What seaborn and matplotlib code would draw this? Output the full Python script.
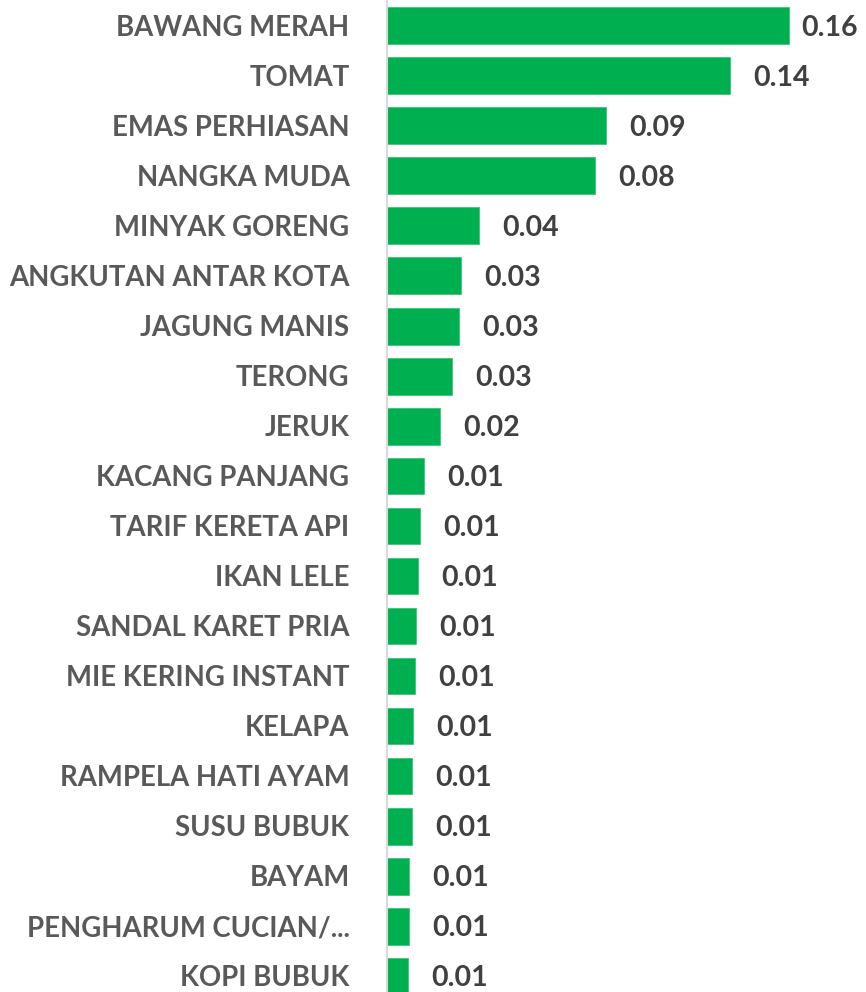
import matplotlib
matplotlib.use("Agg")
import matplotlib.pyplot as plt
import seaborn as sns
import pandas as pd

# Data
items = ["BAWANG MERAH", "TOMAT", "EMAS PERHIASAN", "NANGKA MUDA", "MINYAK GORENG",
         "ANGKUTAN ANTAR KOTA", "JAGUNG MANIS", "TERONG", "JERUK", "KACANG PANJANG",
         "TARIF KERETA API", "IKAN LELE", "SANDAL KARET PRIA", "MIE KERING INSTANT",
         "KELAPA", "RAMPELA HATI AYAM", "SUSU BUBUK", "BAYAM",
         "PENGHARUM CUCIAN/...", "KOPI BUBUK"]
values = [0.160, 0.1365, 0.0872, 0.0828, 0.0366,
          0.0295, 0.0287, 0.0259, 0.0211, 0.0147,
          0.0131, 0.0123, 0.0115, 0.0111,
          0.0104, 0.0099, 0.0099, 0.0088,
          0.0088, 0.0084]

df = pd.DataFrame({"item": items, "value": values})

sns.set_style("white")
plt.rcParams["font.family"] = ["Lato", "DejaVu Sans"]

fig = plt.figure(figsize=(8.66, 9.92), dpi=100)
ax = fig.add_axes([387 / 866, 0, 1 - 387 / 866, 1])

sns.barplot(data=df, x="value", y="item", color="#00B050", saturation=1,
            width=0.74, edgecolor="#3CC47A", linewidth=0.6, ax=ax)

ax.set_xlim(0, 0.1907)
ax.set_ylim(19.32, -0.52)

for s in ["top", "right", "bottom"]:
    ax.spines[s].set_visible(False)
ax.spines["left"].set_color("#D9D9D9")
ax.spines["left"].set_linewidth(1.5)

ax.set_xticks([])
ax.set_xlabel("")
ax.set_ylabel("")
ax.tick_params(axis="y", length=0, pad=27, labelsize=19.8, labelcolor="#595959")
for t in ax.get_yticklabels():
    t.set_fontweight("bold")

labels = ax.bar_label(ax.containers[0], fmt="%.2f", padding=16.5, fontsize=20.5,
                      fontweight="bold", color="#404040")
for t in labels:
    t.xyann = (16.5, -1.5)

# keep labels inside the figure like Excel does
fig.canvas.draw()
renderer = fig.canvas.get_renderer()
for t in labels:
    bb = t.get_window_extent(renderer)
    over = bb.x1 - (fig.bbox.width - 8)
    if over > 0:
        t.xyann = (16.5 - over * 72 / fig.dpi, -1.5)

fig.savefig("out.png", dpi=100)
